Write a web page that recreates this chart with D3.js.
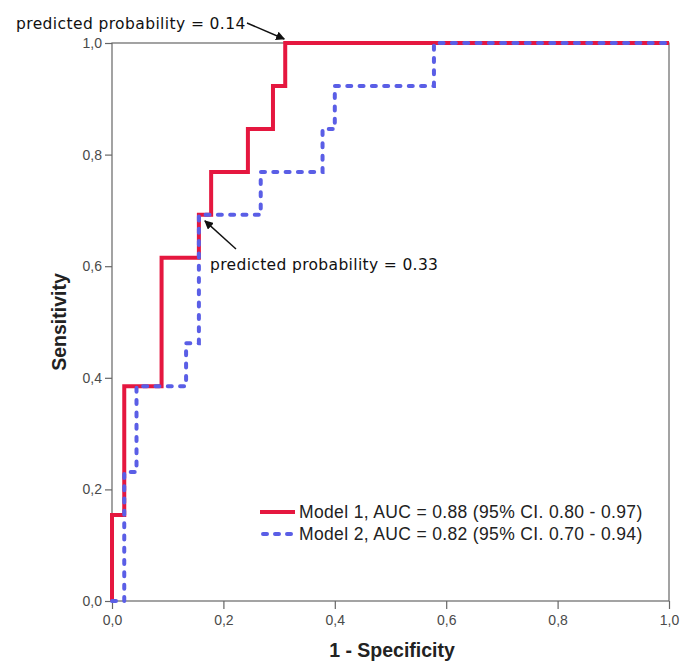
<!DOCTYPE html>
<html>
<head>
<meta charset="utf-8">
<script src="https://cdn.jsdelivr.net/npm/d3@7"></script>
<style>
  html, body { margin: 0; padding: 0; background: #fff; }
  svg { display: block; }
</style>
</head>
<body>
<svg id="chart" width="680" height="661"></svg>
<script>
// ROC curve vertices (1 - specificity, sensitivity) for each model
const model1FPR = [0, 0, 0.022, 0.089, 0.156, 0.178, 0.244, 0.289, 0.311, 1.0];
const model1TPR = [0, 0.154, 0.385, 0.615, 0.692, 0.769, 0.846, 0.923, 1.0, 1.0];
const model2FPR = [0, 0.022, 0.044, 0.133, 0.156, 0.267, 0.378, 0.400, 0.578, 1.0];
const model2TPR = [0, 0.231, 0.385, 0.462, 0.692, 0.769, 0.846, 0.923, 1.0, 1.0];

const tickValues = [0, 0.2, 0.4, 0.6, 0.8, 1.0];
const tickLabels = ["0,0", "0,2", "0,4", "0,6", "0,8", "1,0"];

const legendLabels = [
  "Model 1, AUC = 0.88 (95% CI. 0.80 - 0.97)",
  "Model 2, AUC = 0.82 (95% CI. 0.70 - 0.94)"
];
const annotations = [
  { text: "predicted probability = 0.14", fpr: 0.311, tpr: 1.0 },
  { text: "predicted probability = 0.33", fpr: 0.156, tpr: 0.692 }
];

const svg = d3.select("#chart");
const plotLeft = 112, plotRight = 669, plotTop = 43, plotBottom = 601;

const x = d3.scaleLinear().domain([0, 1]).range([plotLeft, plotRight]);
const y = d3.scaleLinear().domain([0, 1]).range([plotBottom, plotTop]);

const frameColor = "#666";
const redColor = "#e5173f";
const blueColor = "#5a5ee6";
const sansFont = "'Liberation Sans', Arial, sans-serif";
const annoFont = "'DejaVu Sans', Verdana, sans-serif";

// plot frame
svg.append("rect")
  .attr("x", plotLeft).attr("y", plotTop)
  .attr("width", plotRight - plotLeft).attr("height", plotBottom - plotTop)
  .attr("fill", "none").attr("stroke", frameColor).attr("stroke-width", 1.2);

// axes
const fmt = d => tickLabels[tickValues.indexOf(d)];
const yAxis = svg.append("g").attr("transform", `translate(${plotLeft},0)`)
  .call(d3.axisLeft(y).tickValues(tickValues).tickFormat(fmt).tickSize(7).tickPadding(3));
const xAxis = svg.append("g").attr("transform", `translate(0,${plotBottom})`)
  .call(d3.axisBottom(x).tickValues(tickValues).tickFormat(fmt).tickSize(8).tickPadding(6));

[xAxis, yAxis].forEach(g => {
  g.select(".domain").remove();
  g.selectAll(".tick line").attr("stroke", frameColor).attr("stroke-width", 1.2);
  g.selectAll(".tick text")
    .attr("fill", "#4a4a4a")
    .style("font-family", sansFont)
    .style("font-size", "14px");
});

// axis titles
svg.append("text")
  .attr("x", 392).attr("y", 657)
  .attr("text-anchor", "middle")
  .style("font-family", sansFont)
  .style("font-size", "19.5px").style("font-weight", "bold")
  .attr("fill", "#222")
  .text("1 - Specificity");

svg.append("text")
  .attr("transform", `translate(66,${(plotTop + plotBottom) / 2}) rotate(-90)`)
  .attr("text-anchor", "middle")
  .style("font-family", sansFont)
  .style("font-size", "19.5px").style("font-weight", "bold")
  .attr("fill", "#222")
  .text("Sensitivity");

// ROC curves
const line = d3.line()
  .x(d => x(d[0])).y(d => y(d[1]))
  .curve(d3.curveStepAfter);

const pts1 = model1FPR.map((v, i) => [v, model1TPR[i]]);
const pts2 = model2FPR.map((v, i) => [v, model2TPR[i]]);

svg.append("path")
  .attr("d", line(pts1))
  .attr("fill", "none")
  .attr("stroke", redColor)
  .attr("stroke-width", 4);

svg.append("path")
  .attr("d", line(pts2))
  .attr("fill", "none")
  .attr("stroke", blueColor)
  .attr("stroke-width", 4)
  .attr("stroke-linecap", "round")
  .attr("stroke-dasharray", "4,8.3");

// legend
const legend = svg.append("g");
const legendX = 260, legendY = 512, legendGap = 22;
legend.append("line")
  .attr("x1", legendX).attr("x2", legendX + 35)
  .attr("y1", legendY).attr("y2", legendY)
  .attr("stroke", redColor).attr("stroke-width", 4);
legend.append("line")
  .attr("x1", legendX + 3).attr("x2", legendX + 35)
  .attr("y1", legendY + legendGap).attr("y2", legendY + legendGap)
  .attr("stroke", blueColor).attr("stroke-width", 4)
  .attr("stroke-linecap", "round").attr("stroke-dasharray", "4,8");
legend.selectAll("text.lbl").data(legendLabels).join("text")
  .attr("class", "lbl")
  .attr("x", legendX + 39)
  .attr("y", (d, i) => legendY + i * legendGap + 6)
  .style("font-family", sansFont)
  .style("font-size", "17.5px")
  .style("letter-spacing", "0.35px")
  .attr("fill", "#222")
  .text(d => d);

// annotations with arrows
const defs = svg.append("defs");
defs.append("marker")
  .attr("id", "arrowhead")
  .attr("viewBox", "0 0 10 10")
  .attr("refX", 9).attr("refY", 5)
  .attr("markerWidth", 9).attr("markerHeight", 9)
  .attr("markerUnits", "userSpaceOnUse")
  .attr("orient", "auto")
  .append("path")
  .attr("d", "M0,0 L10,5 L0,10 Z")
  .attr("fill", "#111");

// 0.14: label above the top-left, arrow pointing down to the corner
const a1 = annotations[0];
svg.append("text")
  .attr("x", 16).attr("y", 29)
  .style("font-family", annoFont).style("font-size", "15.5px")
  .style("letter-spacing", "0.4px")
  .attr("fill", "#111")
  .text(a1.text);
svg.append("line")
  .attr("x1", 247).attr("y1", 23)
  .attr("x2", x(a1.fpr) - 1).attr("y2", y(a1.tpr) - 4)
  .attr("stroke", "#111").attr("stroke-width", 1.4)
  .attr("marker-end", "url(#arrowhead)");

// 0.33: label to the lower right, arrow pointing up-left to the corner
const a2 = annotations[1];
svg.append("text")
  .attr("x", 210).attr("y", 270)
  .style("font-family", annoFont).style("font-size", "15.5px")
  .style("letter-spacing", "0.35px")
  .attr("fill", "#111")
  .text(a2.text);
svg.append("line")
  .attr("x1", 236).attr("y1", 249)
  .attr("x2", x(a2.fpr) + 6).attr("y2", y(a2.tpr) + 6)
  .attr("stroke", "#111").attr("stroke-width", 1.4)
  .attr("marker-end", "url(#arrowhead)");
</script>
</body>
</html>
